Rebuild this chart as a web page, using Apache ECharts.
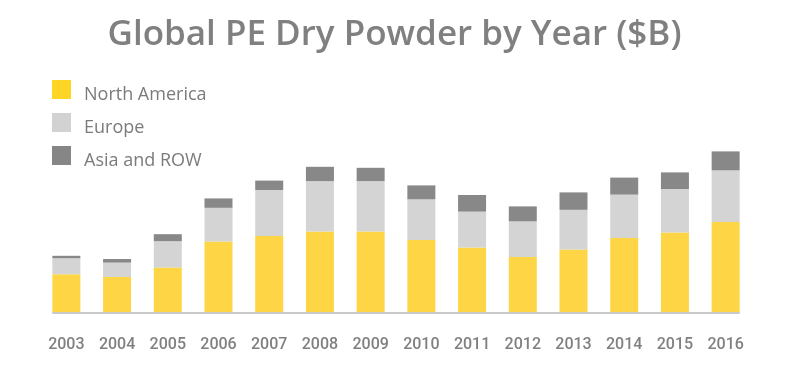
<!DOCTYPE html>
<html>
<head>
<meta charset="utf-8">
<script src="https://cdn.jsdelivr.net/npm/echarts@6/dist/echarts.min.js"></script>
<style>html,body{margin:0;padding:0;background:#fff;}#c{width:789px;height:380px;}</style>
</head>
<body>
<div id="c"></div>
<script>
var years = ['2003','2004','2005','2006','2007','2008','2009','2010','2011','2012','2013','2014','2015','2016'];
var northAmerica = [194,180,227,358,385,407,407,365,327,280,318,375,402,455];
var europe = [80,72,132,168,230,252,252,203,180,178,198,217,218,258];
var asiaRow = [12,18,35,47,47,72,67,70,83,75,87,85,83,95];
var seriesNames = ['North America','Europe','Asia and ROW'];
var colors = ['#fdd545','#d4d4d4','#888888'];
var legendColors = ['#fcd525','#d2d2d2','#868686'];

var chart = echarts.init(document.getElementById('c'));
var dataSets = [northAmerica, europe, asiaRow];
var series = dataSets.map(function(d, i){
  return {
    name: seriesNames[i], type: 'bar', stack: 'total', data: d,
    barWidth: 28, xAxisIndex: 0, yAxisIndex: 0,
    itemStyle: {color: colors[i]}, emphasis: {disabled: true}
  };
});
chart.setOption({
  animation: false,
  title: {
    text: 'Global PE Dry Powder by Year ($B)',
    left: 'center', top: 13,
    textStyle: {fontFamily: 'Open Sans', fontWeight: 600, fontSize: 35, color: '#808080'}
  },
  legend: {
    orient: 'vertical', left: 47, top: 75,
    itemWidth: 19, itemHeight: 29, itemGap: 4,
    icon: 'path://M0,0L19,0L19,19L0,19Z M0,29Z',
    data: seriesNames.map(function(n, i){ return {name: n, itemStyle: {color: legendColors[i]}}; }),
    textStyle: {fontFamily: 'Open Sans', fontSize: 18, color: '#7b7b7b', padding: [0, 0, 0, 8]}
  },
  grid: [
    {left: 41, right: 38, top: 113, bottom: 67},
    {left: 53, right: 50, top: 113, bottom: 67}
  ],
  xAxis: [
    {type: 'category', gridIndex: 0, data: years,
     axisLine: {show: false}, axisTick: {show: false},
     axisLabel: {margin: 24, fontFamily: 'Roboto', fontWeight: 500, fontSize: 16, color: '#808080'}},
    {type: 'value', gridIndex: 1, min: 0, max: 1, z: 10,
     axisLine: {show: true, lineStyle: {color: '#c9c9c9', width: 2}},
     axisTick: {show: false}, axisLabel: {show: false}, splitLine: {show: false}}
  ],
  yAxis: [
    {type: 'value', gridIndex: 0, min: 0, max: 1000, show: false, splitLine: {show: false}},
    {type: 'value', gridIndex: 1, min: 0, max: 1, show: false, splitLine: {show: false}}
  ],
  series: series
});
</script>
</body>
</html>
